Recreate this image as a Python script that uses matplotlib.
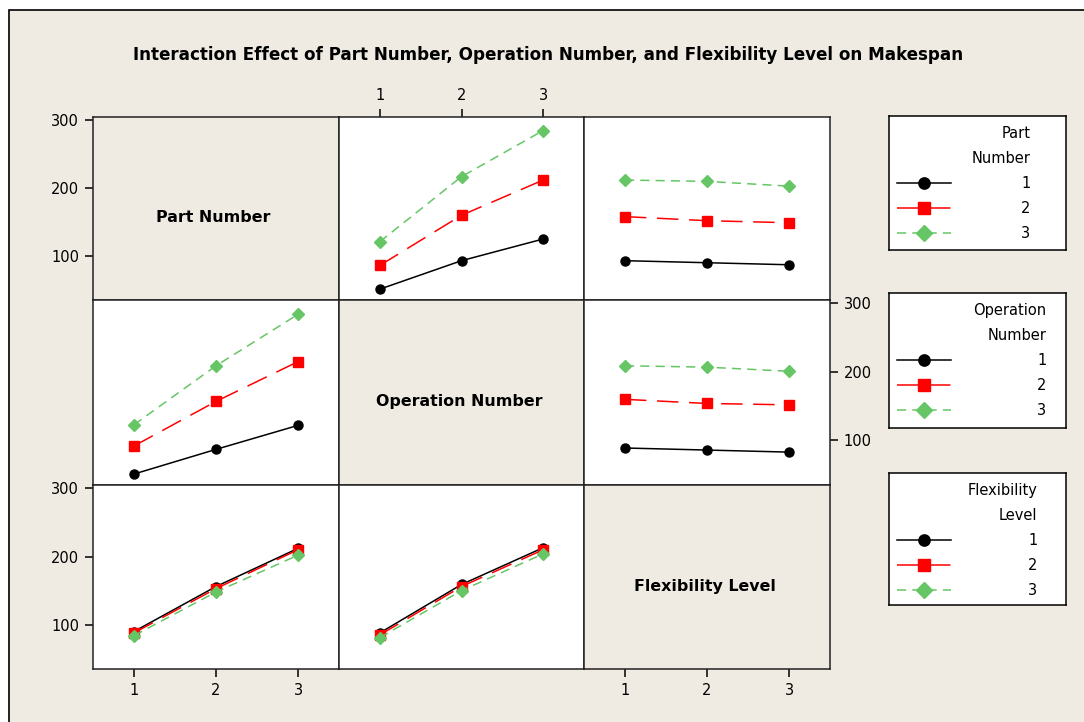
import numpy as np
import matplotlib.pyplot as plt
from matplotlib.patches import Rectangle

W, H = 1084, 722

levels = [1, 2, 3]
factors = ["Part Number", "Operation Number", "Flexibility Level"]
legend_titles = ["Part\nNumber", "Operation\nNumber", "Flexibility\nLevel"]
chart_title = "Interaction Effect of Part Number, Operation Number, and Flexibility Level on Makespan"
y_ticks = [100, 200, 300]

# mean makespan: one row per level of the line factor, one column per x level
part_vs_operation = [[51, 93, 125], [86, 160, 212], [121, 217, 285]]
part_vs_flexibility = [[93, 90, 87], [158, 152, 149], [212, 210, 203]]
operation_vs_part = [[51, 87, 122], [92, 157, 215], [123, 209, 284]]
operation_vs_flexibility = [[89, 86, 83], [160, 154, 152], [209, 207, 201]]
flexibility_vs_part = [[90, 156, 212], [88, 153, 210], [84, 148, 202]]
flexibility_vs_operation = [[88, 159, 213], [85, 156, 210], [81, 150, 204]]

# (row = line factor, col = x factor)
panels = {
    (0, 1): part_vs_operation,
    (0, 2): part_vs_flexibility,
    (1, 0): operation_vs_part,
    (1, 2): operation_vs_flexibility,
    (2, 0): flexibility_vs_part,
    (2, 1): flexibility_vs_operation,
}

bg = "#efebe2"
styles = [
    dict(color="black", ls="-", marker="o", ms=6.5),
    dict(color="#ff0000", ls=(0, (14, 7)), marker="s", ms=6.5),
    dict(color="#66c666", ls=(0, (6, 4)), marker="D", ms=6.5),
]

col_x = [93, 339, 584, 830]
row_y = [117, 300, 485, 669]


def px_rect(x0, y0, x1, y1):
    return [x0 / W, 1 - y1 / H, (x1 - x0) / W, (y1 - y0) / H]


plt.rcParams["font.family"] = "DejaVu Sans"
fig = plt.figure(figsize=(W / 100, H / 100), dpi=100)
fig.patch.set_facecolor("white")
fig.add_artist(Rectangle((9 / W, -0.05), 1.1, 1.05 - 10 / H, transform=fig.transFigure,
                         facecolor=bg, edgecolor="black", lw=1.2, zorder=-10))

fig.text(548 / W, 1 - 55 / H, chart_title, ha="center", va="center",
         fontsize=12.1, fontweight="bold")

handles = {}
for r in range(3):
    for c in range(3):
        ax = fig.add_axes(px_rect(col_x[c], row_y[r], col_x[c + 1], row_y[r + 1]))
        ax.set_xlim(0.5, 3.5)
        ax.set_ylim(35, 305)
        ax.set_xticks(levels)
        ax.set_yticks(y_ticks)
        for s in ax.spines.values():
            s.set_linewidth(1.1)
            s.set_color("#222222")
        ax.tick_params(length=6, width=1.1, labelsize=10.5, pad=4,
                       bottom=False, top=False, left=False, right=False,
                       labelbottom=False, labeltop=False, labelleft=False, labelright=False)
        if r == c:
            ax.set_facecolor(bg)
            ax.text(0.49, 0.45, factors[r], transform=ax.transAxes, ha="center", va="center",
                    fontsize=11.4, fontweight="bold")
        else:
            ax.set_facecolor("white")
            data = panels[(r, c)]
            lines = []
            for k, vals in enumerate(data):
                ln, = ax.plot(levels, vals, lw=1.1, **styles[k])
                lines.append(ln)
            handles.setdefault(r, lines)
        if r == 2 and c in (0, 2):
            ax.tick_params(bottom=True, labelbottom=True)
        if r == 0 and c == 1:
            ax.tick_params(top=True, labeltop=True)
        if c == 0 and r in (0, 2):
            ax.tick_params(left=True, labelleft=True)
        if c == 2 and r == 1:
            ax.tick_params(right=True, labelright=True)

# legend boxes
boxes = [(889, 116, 1066, 250), (889, 293, 1066, 428), (889, 473, 1066, 605)]
pads = [4.8, 5.9, 5.3]
for r, (x0, y0, x1, y1) in enumerate(boxes):
    lax = fig.add_axes(px_rect(x0, y0, x1, y1))
    lax.set_facecolor("white")
    lax.set_xticks([])
    lax.set_yticks([])
    for s in lax.spines.values():
        s.set_linewidth(1.1)
        s.set_color("black")
    leg = lax.legend(handles[r], [str(v) for v in levels], title=legend_titles[r],
                     loc="upper left", bbox_to_anchor=(8 / (x1 - x0), 1 - 10 / (y1 - y0)),
                     frameon=False, fontsize=10.5, title_fontsize=10.5, handlelength=3.7,
                     handletextpad=pads[r], labelspacing=0.68, borderpad=0, borderaxespad=0,
                     alignment="right", markerscale=1.25)
    leg.get_title().set_multialignment("right")
    leg.get_title().set_linespacing(1.85)

fig.savefig("out.png", dpi=100, facecolor=fig.get_facecolor())
